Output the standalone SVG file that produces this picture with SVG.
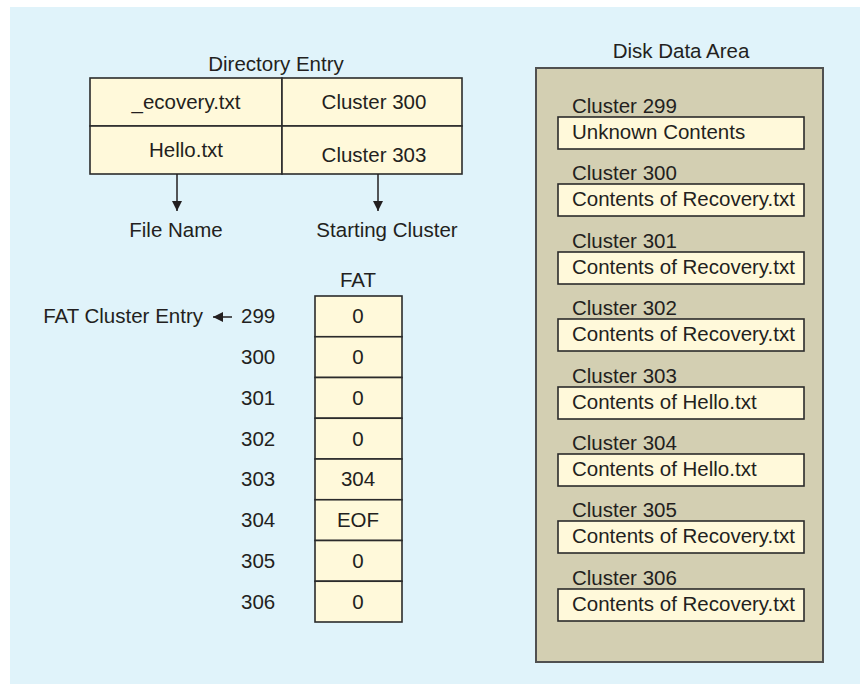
<svg xmlns="http://www.w3.org/2000/svg" width="860" height="684" viewBox="0 0 860 684">
<defs>
<style>
text{font-family:"Liberation Sans",Arial,sans-serif;font-size:20.5px;fill:#231f20}
.c{text-anchor:middle}
.e{text-anchor:end}
.cell{fill:#fff9da;stroke:#2b2b2b;stroke-width:1.6}
.line{stroke:#231f20;stroke-width:1.5;fill:none}
.disk{fill:#d3cfb2;stroke:#505050;stroke-width:2}
</style>
<marker id="ah" viewBox="0 0 10 10" refX="10" refY="5" markerWidth="10" markerHeight="10" markerUnits="userSpaceOnUse" orient="auto">
<path d="M0,0 L10,5 L0,10 z" fill="#231f20"/>
</marker>
</defs>
<rect x="10" y="7" width="850" height="677" fill="#e0f3fa"/>

<g id="directory">
<text class="c" x="276" y="71">Directory Entry</text>
<rect class="cell" x="90" y="78" width="192" height="48"/>
<rect class="cell" x="282" y="78" width="180" height="48"/>
<rect class="cell" x="90" y="126" width="192" height="48"/>
<rect class="cell" x="282" y="126" width="180" height="48"/>
<text class="c" x="186" y="109">_ecovery.txt</text>
<text class="c" x="374" y="109">Cluster 300</text>
<text class="c" x="186" y="157">Hello.txt</text>
<text class="c" x="374" y="162">Cluster 303</text>
</g>

<g id="file-name">
<text class="c" x="176" y="237">File Name</text>
</g>
<g id="starting-cluster">
<text class="c" x="387" y="237">Starting Cluster</text>
</g>

<g id="fat">
<text class="c" x="358" y="287">FAT</text>
<rect class="cell" x="315" y="296" width="87" height="40.75"/>
<rect class="cell" x="315" y="336.75" width="87" height="40.75"/>
<rect class="cell" x="315" y="377.5" width="87" height="40.75"/>
<rect class="cell" x="315" y="418.25" width="87" height="40.75"/>
<rect class="cell" x="315" y="459" width="87" height="40.75"/>
<rect class="cell" x="315" y="499.75" width="87" height="40.75"/>
<rect class="cell" x="315" y="540.5" width="87" height="40.75"/>
<rect class="cell" x="315" y="581.25" width="87" height="40.75"/>
<text class="c" x="358" y="323">0</text>
<text class="c" x="358" y="364">0</text>
<text class="c" x="358" y="405">0</text>
<text class="c" x="358" y="446">0</text>
<text class="c" x="358" y="486">304</text>
<text class="c" x="358" y="527">EOF</text>
<text class="c" x="358" y="568">0</text>
<text class="c" x="358" y="609">0</text>
</g>

<g id="fat-index">
<text x="241" y="323">299</text>
<text x="241" y="364">300</text>
<text x="241" y="405">301</text>
<text x="241" y="446">302</text>
<text x="241" y="486">303</text>
<text x="241" y="527">304</text>
<text x="241" y="568">305</text>
<text x="241" y="609">306</text>
</g>

<g id="fat-cluster-entry">
<text class="e" x="203" y="323">FAT Cluster Entry</text>
</g>

<g id="disk-data-area">
<text class="c" x="681" y="58">Disk Data Area</text>
<rect class="disk" x="536" y="68" width="287" height="594"/>
</g>
<g id="cluster-299"><text x="572" y="113">Cluster 299</text><rect class="cell" x="558" y="117" width="246" height="32"/><text x="572" y="139">Unknown Contents</text></g>
<g id="cluster-300"><text x="572" y="180">Cluster 300</text><rect class="cell" x="558" y="184" width="246" height="32"/><text x="572" y="206">Contents of Recovery.txt</text></g>
<g id="cluster-301"><text x="572" y="248">Cluster 301</text><rect class="cell" x="558" y="252" width="246" height="32"/><text x="572" y="274">Contents of Recovery.txt</text></g>
<g id="cluster-302"><text x="572" y="315">Cluster 302</text><rect class="cell" x="558" y="319" width="246" height="32"/><text x="572" y="341">Contents of Recovery.txt</text></g>
<g id="cluster-303"><text x="572" y="383">Cluster 303</text><rect class="cell" x="558" y="387" width="246" height="32"/><text x="572" y="409">Contents of Hello.txt</text></g>
<g id="cluster-304"><text x="572" y="450">Cluster 304</text><rect class="cell" x="558" y="454" width="246" height="32"/><text x="572" y="476">Contents of Hello.txt</text></g>
<g id="cluster-305"><text x="572" y="517">Cluster 305</text><rect class="cell" x="558" y="521" width="246" height="32"/><text x="572" y="543">Contents of Recovery.txt</text></g>
<g id="cluster-306"><text x="572" y="585">Cluster 306</text><rect class="cell" x="558" y="589" width="246" height="32"/><text x="572" y="611">Contents of Recovery.txt</text></g>

<g id="connectors">
<line class="line" x1="177" y1="174" x2="177" y2="211" marker-end="url(#ah)"/>
<line class="line" x1="378" y1="174" x2="378" y2="211" marker-end="url(#ah)"/>
<line class="line" x1="232" y1="317" x2="213" y2="317" marker-end="url(#ah)"/>
</g>
</svg>
